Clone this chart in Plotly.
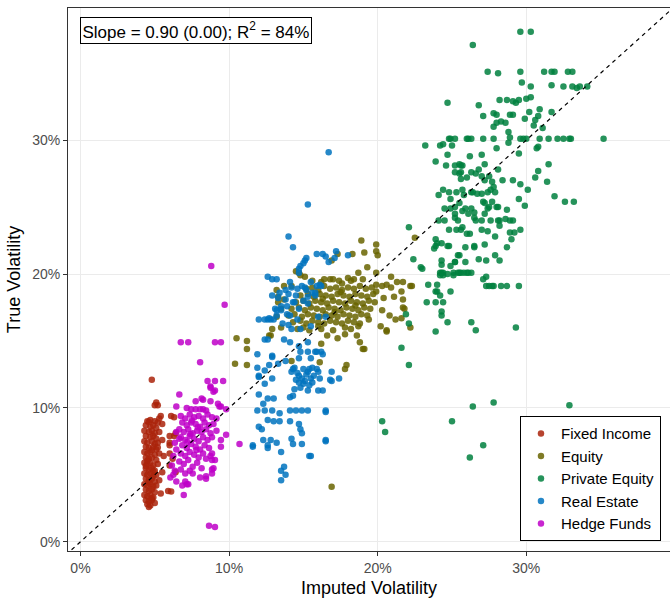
import plotly.graph_objects as go

# ---------------- data (values in %) ----------------
groups = ["Fixed Income", "Equity", "Private Equity", "Real Estate", "Hedge Funds"]
colors = ["rgb(170,35,10)", "rgb(105,100,0)", "rgb(0,128,62)", "rgb(0,115,190)", "rgb(190,0,200)"]

fixed_income = [
    (4.8, 12.1), (5.1, 10.4), (5.2, 10.2), (5.0, 10.2), (5.4, 9.4), (5.3, 9.2), (6.1, 9.4), (6.3, 9.3),
    (6.0, 7.9), (6.3, 7.9), (6.4, 8.1), (6.0, 7.4), (6.0, 7.2), (6.0, 6.6), (6.2, 6.2), (6.0, 5.7),
    (6.4, 5.2), (5.9, 3.8), (6.1, 3.75), (4.6, 2.6),
    (4.5, 9.0), (4.7, 9.1), (5.0, 9.0), (5.2, 8.9), (4.4, 8.7), (4.7, 8.6), (4.9, 8.7), (5.1, 8.5),
    (4.3, 8.3), (4.6, 8.2), (4.8, 8.3), (5.0, 8.1), (5.3, 8.2), (4.4, 7.9), (4.7, 7.8), (4.9, 7.9),
    (5.1, 7.7), (4.3, 7.5), (4.5, 7.4), (4.8, 7.5), (5.0, 7.3), (5.2, 7.4), (4.4, 7.1), (4.6, 7.0),
    (4.9, 7.1), (5.1, 6.9), (4.3, 6.7), (4.5, 6.6), (4.7, 6.7), (5.0, 6.5), (5.3, 6.6), (4.4, 6.3),
    (4.6, 6.2), (4.8, 6.3), (5.1, 6.1), (4.3, 5.9), (4.5, 5.8), (4.7, 5.9), (4.9, 5.7), (5.2, 5.8),
    (4.4, 5.5), (4.6, 5.4), (4.8, 5.5), (5.0, 5.3), (4.3, 5.1), (4.5, 5.0), (4.7, 5.1), (4.9, 4.9),
    (5.1, 5.0), (4.4, 4.7), (4.6, 4.6), (4.8, 4.7), (5.0, 4.5), (5.3, 4.6), (4.3, 4.3), (4.5, 4.2),
    (4.7, 4.3), (4.9, 4.1), (5.1, 4.2), (4.4, 3.9), (4.6, 3.8), (4.8, 3.9), (5.0, 3.7), (4.3, 3.5),
    (4.5, 3.4), (4.7, 3.5), (4.9, 3.3), (4.4, 3.1), (4.6, 3.0), (4.8, 3.1), (5.0, 2.9), (4.5, 2.8),
    (4.7, 2.7), (5.5, 8.8), (5.5, 7.6), (5.6, 6.4), (5.5, 5.2), (5.4, 3.6), (4.6, 8.95), (4.8, 6.85),
    (4.5, 6.05), (4.9, 5.25), (4.6, 4.45), (4.8, 3.25), (5.2, 7.05), (4.4, 5.65),
]

equity = [
    (18.9, 22.5), (19.9, 22.2), (19.9, 21.7), (20.0, 21.4), (19.1, 21.6), (18.3, 21.5), (22.5, 22.7),
    (16.9, 21.0), (17.3, 21.5), (14.5, 20.2), (14.7, 20.1), (14.8, 19.9), (18.7, 20.1), (19.3, 20.5),
    (19.9, 20.1), (15.1, 19.8), (16.4, 19.6), (16.8, 19.6), (17.4, 19.5), (18.0, 19.7), (18.4, 19.6),
    (13.2, 18.8), (13.7, 19.1), (14.2, 19.1), (20.9, 19.8), (21.3, 19.4), (21.7, 19.4), (22.2, 19.1),
    (20.6, 19.2), (20.3, 19.1), (19.9, 19.2), (21.6, 18.7), (21.1, 18.3), (21.7, 18.1), (20.4, 18.2),
    (19.9, 18.7), (21.8, 17.4), (20.3, 17.3), (20.8, 16.9), (21.6, 16.7), (20.2, 16.1), (20.6, 15.7),
    (21.2, 16.6), (18.7, 16.1), (18.6, 15.4), (18.8, 14.9), (19.1, 14.4), (17.8, 15.5), (17.3, 15.2),
    (16.6, 15.4), (16.2, 14.8), (13.5, 17.4), (13.3, 17.9), (13.2, 16.8), (12.9, 15.9), (12.7, 15.4),
    (13.5, 16.0), (10.5, 15.2), (11.2, 15.0), (11.2, 14.4), (12.8, 15.4), (22.3, 19.1), (20.9, 19.0),
    (22.2, 16.0), (13.3, 18.3), (13.7, 18.1), (10.4, 13.3), (11.2, 13.2), (14.2, 13.5), (16.1, 13.4),
    (17.8, 12.9), (17.9, 13.2), (16.9, 4.1), (19.0, 14.4), (20.6, 15.8), (21.7, 17.5),
    (15.2, 18.9), (15.6, 19.0), (16.0, 18.8), (16.4, 19.1), (16.8, 18.9), (17.2, 19.0), (17.6, 18.8),
    (18.0, 19.0), (18.4, 18.9), (18.8, 19.1), (19.2, 18.9), (19.6, 19.0), (14.8, 18.4), (15.3, 18.5),
    (15.7, 18.3), (16.1, 18.5), (16.5, 18.4), (16.9, 18.3), (17.3, 18.5), (17.7, 18.4), (18.1, 18.3),
    (18.5, 18.5), (18.9, 18.4), (19.3, 18.3), (19.7, 18.5), (14.5, 17.9), (15.0, 18.0), (15.4, 17.8),
    (15.8, 18.0), (16.2, 17.9), (16.6, 17.8), (17.0, 18.0), (17.4, 17.9), (17.8, 17.8), (18.2, 18.0),
    (18.6, 17.9), (19.0, 17.8), (19.4, 18.0), (19.8, 17.9), (14.2, 17.4), (14.7, 17.5), (15.1, 17.3),
    (15.5, 17.5), (15.9, 17.4), (16.3, 17.3), (16.7, 17.5), (17.1, 17.4), (17.5, 17.3), (17.9, 17.5),
    (18.3, 17.4), (18.7, 17.3), (19.1, 17.5), (19.5, 17.4), (14.0, 16.9), (14.4, 17.0), (14.9, 16.8),
    (15.3, 17.0), (15.7, 16.9), (16.1, 16.8), (16.5, 17.0), (16.9, 16.9), (17.3, 16.8), (17.7, 17.0),
    (18.1, 16.9), (18.5, 16.8), (18.9, 17.0), (19.3, 16.9), (14.3, 16.4), (14.8, 16.5), (15.2, 16.3),
    (15.6, 16.5), (16.0, 16.4), (16.4, 16.3), (16.8, 16.5), (17.2, 16.4), (17.6, 16.3), (18.0, 16.5),
    (18.4, 16.4), (18.8, 16.3), (14.6, 15.9), (15.0, 16.0), (15.4, 15.8), (16.2, 15.9), (17.0, 15.8),
    (17.8, 16.0), (18.2, 15.9), (15.6, 19.5), (16.2, 19.4), (17.0, 19.6), (17.6, 19.3), (18.2, 19.5),
    (19.0, 19.6), (17.5, 18.65), (16.3, 18.15), (18.5, 17.65), (17.1, 17.15), (16.0, 16.1), (19.4, 16.6),
]

private_equity = [
    (29.6, 38.1), (30.3, 38.1), (26.4, 37.1), (27.4, 35.1), (28.1, 35.0), (29.6, 35.1), (31.2, 35.1),
    (31.7, 35.1), (31.9, 35.1), (32.8, 35.1), (33.1, 35.1), (29.7, 34.3), (30.3, 34.0), (31.7, 34.1),
    (32.5, 34.0), (33.1, 34.0), (33.4, 33.9), (33.6, 34.0), (34.1, 34.0), (24.7, 32.8), (26.8, 32.6),
    (28.2, 33.0), (28.7, 33.0), (29.1, 32.9), (29.3, 32.8), (29.5, 33.0), (30.0, 33.1), (30.3, 33.2),
    (27.1, 31.8), (27.8, 32.0), (28.0, 31.9), (27.8, 31.0), (28.0, 31.3), (28.3, 31.4), (28.6, 31.3),
    (28.9, 31.9), (29.1, 31.9), (30.2, 32.1), (29.9, 31.6), (30.9, 32.3), (30.8, 31.8), (30.6, 31.5),
    (30.5, 31.1), (31.7, 32.1), (31.1, 30.9), (28.8, 30.6), (28.9, 30.2), (35.2, 30.1),
    (24.8, 30.1), (24.9, 30.1), (25.2, 30.1), (26.0, 30.1), (26.1, 30.1), (26.3, 30.1), (27.1, 30.1),
    (27.8, 30.1), (29.6, 30.1), (29.8, 30.1), (30.0, 30.1), (30.9, 30.1), (31.5, 30.1), (32.1, 30.1),
    (32.5, 30.1), (32.9, 30.1), (33.0, 30.1),
    (23.2, 29.6), (24.2, 29.6), (24.4, 29.7), (25.0, 29.6), (28.0, 29.4), (28.8, 29.8), (29.5, 29.0),
    (30.7, 29.4), (30.8, 29.5), (24.7, 28.9), (26.2, 28.8), (27.0, 28.9), (23.9, 28.4), (24.6, 28.1),
    (25.2, 28.1), (25.5, 28.2), (25.6, 28.1), (25.7, 28.1), (25.2, 27.6), (25.5, 27.5), (25.6, 27.6),
    (26.8, 27.8), (27.2, 28.2), (28.1, 27.8), (31.5, 28.2), (30.8, 27.7), (26.3, 27.6), (26.6, 27.5),
    (27.5, 27.3), (27.2, 27.0), (27.0, 27.3), (27.7, 26.9), (25.6, 27.1), (26.0, 27.2), (28.4, 27.0),
    (29.1, 27.0), (29.6, 26.7), (30.6, 27.2), (31.4, 26.9), (31.9, 25.8), (30.1, 26.3), (29.5, 25.6),
    (29.9, 25.1),
    (24.1, 25.9), (24.4, 26.3), (24.8, 26.1), (25.3, 26.1), (25.7, 26.3), (25.8, 25.9), (26.3, 26.1),
    (26.4, 26.1), (26.7, 26.0), (27.0, 26.0), (27.4, 26.1), (27.6, 26.3), (27.9, 26.1), (27.8, 26.5),
    (24.9, 25.6), (25.5, 25.3), (24.5, 24.9), (24.9, 24.9), (25.2, 25.0), (25.9, 24.9), (26.3, 24.9),
    (27.1, 25.4), (27.2, 25.3), (27.4, 24.9), (27.5, 25.0), (27.7, 25.4), (28.0, 25.0), (28.1, 25.0),
    (28.7, 24.8), (25.2, 24.5), (25.2, 24.2), (25.7, 24.7), (26.1, 24.5), (26.5, 24.6), (26.5, 24.2),
    (27.2, 24.5),
    (24.1, 24.0), (24.5, 24.0), (25.4, 24.0), (26.6, 24.0), (27.0, 24.0), (27.6, 24.0), (28.1, 24.0),
    (28.2, 24.0), (28.6, 24.1), (28.9, 24.0), (29.1, 24.0), (28.2, 23.6),
    (24.8, 23.3), (25.3, 23.3), (25.6, 23.3), (25.7, 23.5), (26.0, 23.0), (26.2, 23.0), (27.0, 23.3),
    (27.4, 23.2), (27.9, 22.8), (28.9, 23.1), (29.2, 23.1), (29.6, 23.3), (29.0, 22.6), (28.7, 22.0),
    (23.9, 22.6), (24.0, 22.3), (24.3, 22.3), (24.7, 22.1), (24.8, 22.1), (23.9, 22.1), (23.8, 21.9),
    (25.9, 22.0), (26.5, 22.1), (26.5, 22.0), (27.2, 22.2), (25.4, 21.4), (25.5, 21.4), (25.9, 20.9),
    (25.2, 20.9), (26.8, 21.1), (27.3, 21.0), (27.9, 21.4), (28.2, 21.0), (22.4, 21.1), (22.9, 20.5),
    (23.0, 20.4), (24.3, 21.0), (24.3, 20.7), (24.9, 20.6), (25.2, 20.9),
    (24.2, 20.1), (24.3, 20.1), (24.4, 20.1), (25.1, 20.1), (25.4, 20.1), (25.5, 20.1), (25.6, 20.1),
    (25.8, 20.1), (26.0, 20.1), (26.1, 20.1), (26.3, 20.1), (24.2, 19.9), (24.4, 19.9), (24.7, 20.0),
    (25.1, 19.9), (27.1, 19.6), (27.3, 19.8),
    (27.3, 19.1), (27.5, 19.1), (27.7, 19.1), (27.8, 19.1), (28.3, 19.1), (28.7, 19.1), (29.5, 19.1),
    (23.4, 19.2), (24.0, 19.2), (23.9, 18.7), (24.0, 18.7), (24.2, 18.4), (24.9, 18.7), (23.3, 17.9),
    (23.9, 17.9), (24.4, 17.9), (24.3, 17.2), (24.3, 16.9), (24.7, 16.4), (26.3, 16.4),
    (26.6, 15.8), (29.3, 16.0), (23.9, 15.7), (22.1, 23.5), (21.6, 14.5), (22.1, 13.2), (26.4, 10.1),
    (27.8, 10.4), (32.9, 10.2), (25.0, 9.0), (32.6, 25.4), (33.2, 25.4), (27.1, 7.2), (26.2, 6.3),
    (20.3, 9.0), (20.5, 8.2), (21.9, 17.0), (22.1, 16.3),
]

real_estate = [
    (16.7, 29.1), (15.3, 25.2), (14.0, 22.8), (14.3, 22.0), (15.9, 21.5), (16.3, 21.5), (16.5, 21.3),
    (16.7, 20.9), (17.1, 21.2), (17.2, 21.7), (18.0, 21.4), (15.2, 21.2), (15.1, 21.0), (15.0, 20.8),
    (14.8, 20.6), (14.7, 20.4), (14.7, 20.1),
    (12.6, 19.8), (12.9, 19.6), (13.2, 19.6), (14.1, 19.4), (14.2, 19.0), (13.8, 18.8), (12.9, 18.4),
    (13.3, 18.2), (15.1, 19.0), (15.5, 19.4), (16.1, 19.2), (15.2, 18.8), (15.8, 18.6), (14.9, 19.1),
    (15.9, 19.1), (16.2, 19.1), (15.6, 18.6),
    (12.0, 16.6), (12.6, 16.6), (12.8, 16.6), (13.0, 16.6), (13.2, 16.9), (13.1, 17.4), (13.5, 17.6),
    (13.9, 17.6), (14.4, 17.9), (12.4, 16.6), (12.7, 16.7), (13.2, 17.3), (13.5, 17.3), (14.1, 16.9),
    (14.7, 17.4), (15.3, 17.8), (15.0, 18.0), (13.8, 18.1), (14.3, 17.9), (14.5, 18.4), (15.3, 18.3),
    (15.8, 18.4), (16.0, 16.8), (16.5, 16.8), (15.5, 16.1), (14.8, 15.9), (14.2, 15.9),
    (13.7, 15.1), (14.1, 14.9), (14.7, 14.6), (15.3, 14.9), (15.8, 14.2), (16.2, 14.2), (11.9, 14.0),
    (12.9, 13.8), (12.4, 15.1), (12.9, 13.9), (12.7, 13.2), (11.9, 13.0), (12.0, 12.3), (12.4, 12.8),
    (12.9, 12.2), (12.4, 11.8), (12.0, 11.0), (12.6, 10.7), (13.0, 10.7), (12.3, 10.3),
    (13.3, 13.3), (13.8, 13.5), (14.2, 12.7), (14.7, 12.4), (15.0, 12.9), (15.3, 12.7), (15.6, 13.0),
    (16.0, 12.7), (14.7, 11.9), (15.1, 12.0), (14.4, 11.4), (15.5, 12.2), (16.1, 12.2), (16.9, 12.7),
    (16.9, 12.0), (17.4, 12.2), (14.1, 10.8), (14.3, 10.9), (15.3, 11.3), (16.0, 11.3), (16.3, 11.3),
    (14.8, 14.2), (15.3, 14.2), (15.9, 14.2), (16.3, 14.0), (15.5, 13.7), (14.7, 13.7),
    (14.4, 13.0), (14.6, 12.6), (14.9, 12.2), (15.2, 12.5), (15.4, 12.9), (15.7, 12.4), (14.5, 12.1),
    (15.0, 11.8), (15.4, 11.7), (14.8, 11.5), (15.6, 11.9), (15.9, 12.9), (14.3, 12.9),
    (11.9, 9.8), (12.4, 9.8), (12.9, 9.8), (13.4, 9.6), (14.1, 9.8), (14.5, 9.8), (14.9, 9.8),
    (15.3, 9.8), (16.5, 9.8), (12.6, 9.1), (13.0, 9.0), (13.4, 9.0), (12.0, 8.6), (12.2, 8.4),
    (14.1, 9.0), (14.7, 8.8), (14.8, 8.4), (14.9, 8.1), (12.3, 7.6), (12.8, 7.6), (13.2, 7.4),
    (14.2, 7.7), (14.3, 7.3), (14.9, 7.3), (16.5, 7.6), (11.6, 7.1), (12.6, 7.0), (13.5, 6.7),
    (15.5, 6.4), (13.7, 5.6), (13.5, 5.3), (13.8, 5.0), (13.5, 4.6), (11.6, 7.2), (12.6, 7.2),
    (15.4, 6.4), (16.5, 7.5), (16.5, 9.7), (16.8, 12.1), (12.0, 12.4), (12.6, 15.1),
    (13.6, 16.3), (14.0, 16.2), (13.9, 17.0), (14.6, 16.6), (13.4, 18.6), (14.0, 18.5), (14.6, 18.9),
]

hedge_funds = [
    (8.8, 20.6), (9.7, 17.7), (6.75, 14.9), (7.25, 14.9), (9.05, 14.9), (9.45, 14.9), (8.05, 13.4),
    (8.55, 12.0), (9.05, 12.0), (9.6, 12.0), (8.75, 11.6), (8.95, 11.2), (8.75, 11.5), (9.05, 11.3),
    (6.65, 11.0), (7.75, 10.5), (8.25, 10.6), (8.75, 10.5), (9.25, 10.3), (9.45, 10.1), (9.8, 9.9),
    (8.15, 10.7), (9.35, 10.1), (6.45, 10.1), (7.15, 10.0), (7.45, 9.9), (7.75, 9.9), (8.05, 9.9),
    (8.25, 9.9), (8.45, 9.8), (6.45, 8.2), (6.65, 7.7), (6.35, 7.4), (6.45, 6.9), (6.25, 6.4),
    (6.15, 5.7), (6.35, 5.3), (6.25, 5.0), (6.05, 4.8), (6.45, 4.5), (6.85, 4.2), (7.25, 4.3),
    (7.05, 5.1), (7.05, 4.5), (7.15, 4.3), (7.55, 5.1), (8.05, 4.8), (8.45, 4.9), (8.85, 5.1),
    (8.95, 5.5), (8.85, 6.1), (8.75, 6.4), (9.45, 7.6), (9.45, 7.1), (9.8, 8.0), (6.95, 3.5),
    (8.65, 1.2), (9.05, 1.1), (10.7, 7.3), (8.85, 6.6), (9.05, 6.1), (8.45, 6.2), (8.85, 5.4),
    (8.45, 4.7),
    (6.75, 9.4), (7.05, 9.2), (7.35, 9.5), (7.65, 9.3), (7.95, 9.4), (8.25, 9.2), (8.55, 9.5),
    (8.85, 9.3), (9.15, 9.2), (6.85, 8.9), (7.15, 8.7), (7.45, 8.9), (7.75, 8.8), (8.05, 8.6),
    (8.35, 8.9), (8.65, 8.7), (8.95, 8.8), (6.65, 8.4), (6.95, 8.2), (7.25, 8.4), (7.55, 8.1),
    (7.85, 8.3), (8.15, 8.2), (8.45, 8.4), (8.75, 8.1), (9.15, 8.3), (6.75, 7.8), (7.05, 7.6),
    (7.35, 7.9), (7.65, 7.7), (7.95, 7.5), (8.25, 7.8), (8.55, 7.6), (8.85, 7.8), (6.85, 7.2),
    (7.15, 7.0), (7.45, 7.3), (7.75, 7.1), (8.05, 6.9), (8.35, 7.2), (8.65, 7.0), (6.75, 6.6),
    (7.05, 6.4), (7.35, 6.7), (7.65, 6.5), (7.95, 6.3), (8.25, 6.6), (6.65, 6.0), (6.95, 5.8),
    (7.25, 6.1), (7.55, 5.6), (7.85, 5.9), (8.15, 5.5), (6.75, 5.4), (7.35, 5.3), (7.4, 8.05),
    (7.9, 8.55), (7.2, 7.45), (7.8, 6.85), (7.5, 9.05),
]

series = [fixed_income, equity, private_equity, real_estate, hedge_funds]

x_ticks = [0, 10, 20, 30]
y_ticks = [0, 10, 20, 30]
x_tick_labels = ["0%", "10%", "20%", "30%"]
y_tick_labels = ["0%", "10%", "20%", "30%"]
x_range = [-0.84, 39.67]
y_range = [-0.69, 39.87]
ref_line = [-5, 45]
fit_label = "Slope = 0.90 (0.00); R<sup>2</sup> = 84%"

# ---------------- figure ----------------
fig = go.Figure()
for name, pts, col in zip(groups, series, colors):
    fig.add_trace(go.Scatter(
        x=[p[0] for p in pts], y=[p[1] for p in pts],
        mode="markers", name=name,
        marker=dict(color=col, size=6.5, opacity=0.85, line=dict(width=0)),
    ))

fig.add_shape(type="line", xref="x", yref="y",
              x0=ref_line[0], y0=ref_line[0], x1=ref_line[1], y1=ref_line[1],
              line=dict(color="black", width=1.2, dash="4px,4px"), layer="above")

fig.add_annotation(
    text=fit_label, xref="paper", yref="paper", x=0.02, y=0.983,
    xanchor="left", yanchor="top", showarrow=False,
    font=dict(size=17, color="black", family="Liberation Sans, Arial, sans-serif"),
    bordercolor="black", borderwidth=1, borderpad=1.5, bgcolor="white",
)

axis_common = dict(
    showgrid=True, gridcolor="#EBEBEB", gridwidth=1, zeroline=False,
    showline=True, mirror=True, linecolor="#333333", linewidth=1,
    ticks="outside", ticklen=4, tickcolor="#333333", tickwidth=1,
    tickfont=dict(size=14, color="#4D4D4D"), tickmode="array",
)

fig.update_xaxes(range=x_range, tickvals=x_ticks, ticktext=x_tick_labels,
                 title=dict(text="Imputed Volatility", font=dict(size=18, color="black"), standoff=6),
                 **axis_common)
fig.update_yaxes(range=y_range, tickvals=y_ticks, ticktext=y_tick_labels,
                 title=dict(text="True Volatility", font=dict(size=18, color="black"), standoff=6),
                 **axis_common)

fig.update_layout(
    width=670, height=598,
    margin=dict(l=68, r=0, t=8, b=47, autoexpand=False),
    plot_bgcolor="white", paper_bgcolor="white",
    font=dict(family="Liberation Sans, Arial, sans-serif"),
    legend=dict(
        x=0.985, y=0.018, xanchor="right", yanchor="bottom",
        bgcolor="white", bordercolor="black", borderwidth=1,
        font=dict(size=15, color="black"), itemwidth=30,
        tracegroupgap=0,
    ),
)

fig.write_html("out.html")
